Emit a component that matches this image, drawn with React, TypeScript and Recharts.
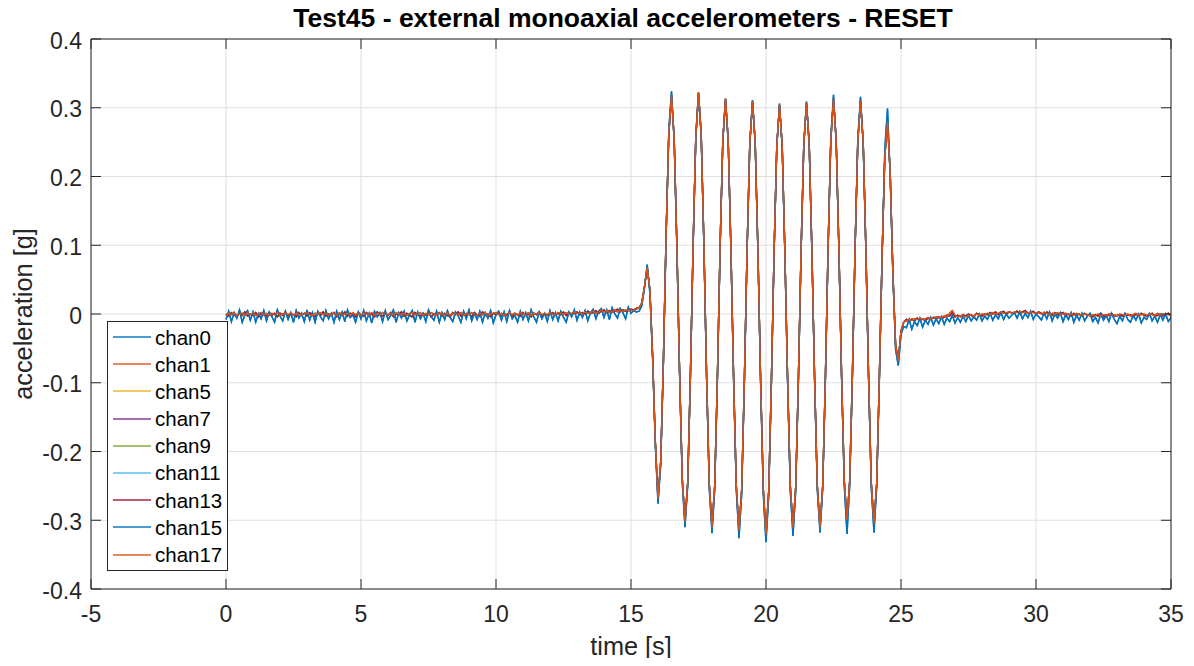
import React from 'react';
import { LineChart, Line, XAxis, YAxis, CartesianGrid, ReferenceLine } from 'recharts';

// ---------- time samples [s] ----------
const timePre = [
  0, 0.1, 0.2, 0.3, 0.4, 0.5, 0.6, 0.7, 0.8, 0.9,
  1, 1.1, 1.2, 1.3, 1.4, 1.5, 1.6, 1.7, 1.8, 1.9,
  2, 2.1, 2.2, 2.3, 2.4, 2.5, 2.6, 2.7, 2.8, 2.9,
  3, 3.1, 3.2, 3.3, 3.4, 3.5, 3.6, 3.7, 3.8, 3.9,
  4, 4.1, 4.2, 4.3, 4.4, 4.5, 4.6, 4.7, 4.8, 4.9,
  5, 5.1, 5.2, 5.3, 5.4, 5.5, 5.6, 5.7, 5.8, 5.9,
  6, 6.1, 6.2, 6.3, 6.4, 6.5, 6.6, 6.7, 6.8, 6.9,
  7, 7.1, 7.2, 7.3, 7.4, 7.5, 7.6, 7.7, 7.8, 7.9,
  8, 8.1, 8.2, 8.3, 8.4, 8.5, 8.6, 8.7, 8.8, 8.9,
  9, 9.1, 9.2, 9.3, 9.4, 9.5, 9.6, 9.7, 9.8, 9.9,
  10, 10.1, 10.2, 10.3, 10.4, 10.5, 10.6, 10.7, 10.8, 10.9,
  11, 11.1, 11.2, 11.3, 11.4, 11.5, 11.6, 11.7, 11.8, 11.9,
  12, 12.1, 12.2, 12.3, 12.4, 12.5, 12.6, 12.7, 12.8, 12.9,
  13, 13.1, 13.2, 13.3, 13.4, 13.5, 13.6, 13.7, 13.8, 13.9,
  14, 14.1, 14.2, 14.3, 14.4, 14.5, 14.6, 14.7, 14.8, 14.9,
  15, 15.1, 15.2,
];
const timeOsc = [
  15.3, 15.4, 15.5, 15.6, 15.7, 15.8, 15.9,
  16, 16.1, 16.2, 16.3, 16.4, 16.5, 16.6, 16.7, 16.8, 16.9,
  17, 17.1, 17.2, 17.3, 17.4, 17.5, 17.6, 17.7, 17.8, 17.9,
  18, 18.1, 18.2, 18.3, 18.4, 18.5, 18.6, 18.7, 18.8, 18.9,
  19, 19.1, 19.2, 19.3, 19.4, 19.5, 19.6, 19.7, 19.8, 19.9,
  20, 20.1, 20.2, 20.3, 20.4, 20.5, 20.6, 20.7, 20.8, 20.9,
  21, 21.1, 21.2, 21.3, 21.4, 21.5, 21.6, 21.7, 21.8, 21.9,
  22, 22.1, 22.2, 22.3, 22.4, 22.5, 22.6, 22.7, 22.8, 22.9,
  23, 23.1, 23.2, 23.3, 23.4, 23.5, 23.6, 23.7, 23.8, 23.9,
  24, 24.1, 24.2, 24.3, 24.4, 24.5, 24.6, 24.7, 24.8, 24.9,
  25, 25.1,
];
const timePost = [
  25.2, 25.3, 25.4, 25.5, 25.6, 25.7, 25.8, 25.9,
  26, 26.1, 26.2, 26.3, 26.4, 26.5, 26.6, 26.7, 26.8, 26.9,
  27, 27.1, 27.2, 27.3, 27.4, 27.5, 27.6, 27.7, 27.8, 27.9,
  28, 28.1, 28.2, 28.3, 28.4, 28.5, 28.6, 28.7, 28.8, 28.9,
  29, 29.1, 29.2, 29.3, 29.4, 29.5, 29.6, 29.7, 29.8, 29.9,
  30, 30.1, 30.2, 30.3, 30.4, 30.5, 30.6, 30.7, 30.8, 30.9,
  31, 31.1, 31.2, 31.3, 31.4, 31.5, 31.6, 31.7, 31.8, 31.9,
  32, 32.1, 32.2, 32.3, 32.4, 32.5, 32.6, 32.7, 32.8, 32.9,
  33, 33.1, 33.2, 33.3, 33.4, 33.5, 33.6, 33.7, 33.8, 33.9,
  34, 34.1, 34.2, 34.3, 34.4, 34.5, 34.6, 34.7, 34.8, 34.9,
  35,
];

// ---------- acceleration [g], blue channels (chan0, chan15) ----------
const bluePre = [
  -0.008, 0.004, -0.011, 0.002, -0.006, 0.006, -0.012, -0.001, 0.005, -0.009,
  0.003, -0.012, 0.001, -0.007, 0.005, -0.010, 0.003, -0.004, -0.012, 0.006,
  -0.003, -0.010, 0.004, -0.008, 0.002, -0.012, 0.005, -0.006, 0.001, -0.011,
  0.006, -0.009, 0.002, -0.012, 0.004, -0.004, -0.010, 0.005, -0.007, 0.001,
  -0.012, 0.004, -0.008, 0.003, -0.011, 0.006, -0.005, -0.001, -0.012, 0.003,
  -0.007, 0.005, -0.010, 0.001, -0.013, 0.004, -0.004, 0.002, -0.011, 0.005,
  -0.008, -0.002, 0.006, -0.012, 0.002, -0.006, 0.004, -0.010, -0.001, 0.005,
  -0.012, 0.003, -0.007, 0.001, -0.011, 0.006, -0.004, -0.009, 0.004, -0.012,
  0.002, -0.008, 0.005, -0.005, -0.011, 0.003, -0.003, -0.012, 0.004, -0.007,
  0.006, -0.010, 0.001, -0.008, 0.004, -0.012, 0.002, -0.006, 0.005, -0.013,
  -0.001, 0.004, -0.009, 0.003, -0.011, 0.005, -0.007, -0.002, -0.012, 0.004,
  -0.008, 0.002, -0.010, 0.006, -0.004, -0.012, 0.003, -0.007, 0.001, -0.011,
  0.005, -0.008, 0.002, -0.010, 0.004, -0.005, -0.012, 0.003, -0.004, 0.006,
  -0.009, 0.003, -0.005, 0.005, -0.010, 0.002, 0.007, -0.007, 0.004, 0.008,
  -0.005, 0.006, -0.008, 0.009, 0.000, -0.006, 0.008, 0.002, -0.007, 0.010,
  0.001, 0.005, 0.003,
];
const blueOsc = [
  0.004, 0.012, 0.038, 0.072, 0.030, -0.065, -0.190,
  -0.276, -0.220, -0.072, 0.112, 0.268, 0.324, 0.250, 0.095, -0.090, -0.246,
  -0.310, -0.250, -0.094, 0.096, 0.254, 0.320, 0.258, 0.098, -0.095, -0.254,
  -0.319, -0.256, -0.097, 0.094, 0.250, 0.312, 0.250, 0.093, -0.097, -0.257,
  -0.326, -0.262, -0.100, 0.091, 0.246, 0.311, 0.247, 0.091, -0.100, -0.263,
  -0.332, -0.265, -0.102, 0.088, 0.243, 0.306, 0.242, 0.086, -0.100, -0.258,
  -0.323, -0.258, -0.099, 0.090, 0.245, 0.309, 0.245, 0.089, -0.098, -0.256,
  -0.318, -0.255, -0.097, 0.093, 0.256, 0.319, 0.250, 0.092, -0.095, -0.250,
  -0.320, -0.250, -0.093, 0.094, 0.255, 0.316, 0.247, 0.091, -0.097, -0.253,
  -0.318, -0.252, -0.095, 0.082, 0.240, 0.299, 0.200, 0.055, -0.052, -0.075,
  -0.030, -0.018,
];
const bluePost = [
  -0.020, -0.008, -0.022, -0.011, -0.017, -0.006, -0.019, -0.009, -0.015, -0.005,
  -0.016, -0.007, -0.014, -0.004, -0.015, -0.006, -0.011, -0.002, -0.013, -0.005,
  -0.012, -0.003, -0.011, -0.002, -0.010, -0.004, -0.009, 0.000, -0.010, -0.003,
  -0.008, 0.001, -0.009, -0.001, -0.007, 0.002, -0.008, 0.000, -0.006, -0.002,
  0.002, -0.006, 0.003, -0.007, 0.001, -0.005, 0.004, -0.008, 0.000, -0.004,
  -0.009, 0.002, -0.007, 0.003, -0.010, 0.000, -0.006, 0.002, -0.011, -0.001,
  -0.008, 0.002, -0.012, -0.002, -0.009, 0.001, -0.010, -0.003, 0.001, -0.011,
  -0.005, -0.013, 0.000, -0.009, -0.002, -0.011, 0.001, -0.008, -0.014, -0.003,
  -0.010, 0.001, -0.008, -0.012, -0.002, -0.009, 0.000, -0.013, -0.005, -0.008,
  0.001, -0.010, -0.003, -0.012, -0.001, -0.009, 0.000, -0.011, -0.005,
];

// ---------- orange channels (chan1, chan17) ----------
const orangePre = [
  -0.002, 0.001, -0.001, 0.002, -0.002, 0.000, 0.001, -0.002, 0.002, -0.001,
  0.001, -0.002, 0.000, 0.002, -0.001, 0.001, -0.002, 0.001, -0.001, 0.002,
  -0.002, 0.000, 0.001, -0.001, 0.002, -0.002, 0.001, 0.000, -0.002, 0.001,
  0.002, -0.001, -0.002, 0.001, 0.000, 0.002, -0.001, 0.001, -0.002, 0.000,
  0.001, -0.002, 0.002, -0.001, 0.000, 0.001, -0.002, 0.002, -0.001, 0.001,
  -0.002, 0.001, 0.000, -0.001, 0.002, -0.002, 0.001, -0.001, 0.002, 0.000,
  -0.001, 0.001, -0.002, 0.002, 0.000, -0.001, 0.001, -0.002, 0.001, 0.002,
  -0.001, 0.000, 0.002, -0.002, 0.001, -0.001, 0.002, 0.000, -0.002, 0.001,
  0.000, -0.001, 0.002, -0.002, 0.001, 0.000, -0.001, 0.002, -0.002, 0.001,
  -0.001, 0.002, 0.000, -0.002, 0.001, -0.001, 0.002, -0.002, 0.000, 0.001,
  0.002, -0.001, 0.001, -0.002, 0.000, 0.002, -0.001, 0.001, -0.002, 0.002,
  0.000, -0.001, 0.002, -0.002, 0.001, 0.000, 0.002, -0.001, 0.001, -0.001,
  0.002, 0.000, -0.001, 0.002, 0.001, -0.001, 0.002, 0.000, 0.001, 0.003,
  0.001, 0.002, 0.000, 0.003, 0.001, 0.002, 0.004, 0.001, 0.003, 0.006,
  0.003, 0.005, 0.002, 0.004, 0.006, 0.003, 0.005, 0.004, 0.006, 0.005,
  0.006, 0.005, 0.007,
];
const mainOsc = [
  0.009, 0.016, 0.040, 0.068, 0.035, -0.060, -0.185,
  -0.268, -0.215, -0.068, 0.115, 0.262, 0.318, 0.255, 0.100, -0.085, -0.240,
  -0.302, -0.245, -0.090, 0.100, 0.258, 0.322, 0.262, 0.103, -0.090, -0.248,
  -0.310, -0.250, -0.092, 0.098, 0.252, 0.313, 0.253, 0.097, -0.092, -0.250,
  -0.315, -0.255, -0.095, 0.095, 0.248, 0.309, 0.250, 0.095, -0.095, -0.255,
  -0.321, -0.258, -0.097, 0.092, 0.245, 0.304, 0.245, 0.090, -0.095, -0.250,
  -0.311, -0.252, -0.094, 0.094, 0.247, 0.307, 0.248, 0.093, -0.093, -0.250,
  -0.310, -0.250, -0.092, 0.097, 0.252, 0.313, 0.252, 0.096, -0.090, -0.243,
  -0.300, -0.243, -0.088, 0.098, 0.250, 0.310, 0.250, 0.095, -0.092, -0.246,
  -0.305, -0.246, -0.090, 0.085, 0.228, 0.280, 0.205, 0.060, -0.045, -0.068,
  -0.025, -0.012,
];
const orangePost = [
  -0.010, -0.008, -0.009, -0.007, -0.008, -0.006, -0.008, -0.007, -0.005, -0.007,
  -0.006, -0.004, -0.006, -0.005, -0.003, -0.004, 0.001, 0.005, -0.002, -0.004,
  -0.003, -0.002, -0.004, -0.002, -0.001, -0.003, 0.000, -0.002, 0.000, -0.001,
  0.001, -0.001, 0.002, 0.000, 0.001, 0.003, 0.001, 0.002, 0.003, 0.001,
  0.003, 0.002, 0.004, 0.002, 0.003, 0.001, 0.003, 0.002, 0.001, 0.002,
  0.000, 0.002, 0.001, -0.001, 0.001, 0.000, 0.002, -0.001, 0.000, 0.001,
  -0.001, 0.000, -0.002, 0.001, -0.001, -0.002, 0.000, -0.001, -0.003, -0.001,
  -0.002, 0.000, -0.003, -0.001, -0.002, 0.000, -0.002, -0.001, -0.003, 0.000,
  -0.001, -0.002, 0.000, -0.003, -0.001, 0.001, -0.002, -0.001, 0.000, -0.002,
  0.000, -0.001, -0.002, 0.001, -0.001, -0.002, 0.000, -0.001, -0.002,
];

// ---------- remaining channels (chan5, chan7, chan9, chan11, chan13) ----------
const otherPre = [
  0.000, -0.003, 0.002, -0.001, -0.004, 0.001, -0.002, 0.003, -0.003, 0.000,
  -0.002, 0.002, -0.004, 0.001, -0.001, -0.003, 0.002, -0.002, 0.001, -0.004,
  0.001, -0.002, 0.003, -0.003, 0.000, -0.001, -0.004, 0.002, -0.002, 0.001,
  -0.003, 0.002, -0.001, -0.004, 0.001, -0.002, 0.003, -0.003, 0.000, -0.001,
  0.002, -0.004, 0.000, -0.002, 0.003, -0.003, 0.001, -0.001, -0.004, 0.002,
  -0.001, -0.003, 0.002, -0.002, 0.000, -0.004, 0.003, -0.001, -0.003, 0.001,
  -0.002, 0.002, -0.004, 0.000, -0.001, 0.003, -0.003, 0.001, -0.002, -0.004,
  0.002, -0.001, -0.003, 0.001, -0.002, 0.003, -0.004, 0.000, -0.001, 0.002,
  -0.003, 0.001, -0.002, -0.004, 0.002, -0.001, 0.003, -0.003, 0.000, -0.002,
  0.001, -0.004, 0.002, -0.001, -0.003, 0.003, -0.002, 0.000, -0.004, 0.001,
  -0.001, 0.002, -0.003, 0.000, -0.002, 0.003, -0.004, 0.001, -0.001, -0.003,
  0.002, -0.002, 0.000, -0.004, 0.001, -0.001, 0.003, -0.003, 0.001, -0.002,
  0.000, 0.002, -0.002, 0.001, -0.001, 0.003, -0.002, 0.002, 0.000, 0.001,
  0.003, -0.001, 0.002, 0.000, 0.004, 0.001, 0.002, 0.005, 0.001, 0.004,
  0.006, 0.002, 0.005, 0.003, 0.004, 0.007, 0.003, 0.006, 0.004, 0.005,
  0.007, 0.006, 0.008,
];
const otherPost = [
  -0.008, -0.011, -0.007, -0.010, -0.006, -0.009, -0.007, -0.010, -0.006, -0.008,
  -0.005, -0.007, -0.004, -0.006, -0.005, -0.002, -0.003, 0.002, -0.004, -0.002,
  -0.004, -0.001, -0.003, 0.000, -0.002, -0.004, 0.001, -0.001, -0.003, 0.000,
  -0.001, 0.002, 0.000, 0.003, -0.001, 0.002, 0.004, 0.000, 0.003, 0.002,
  0.001, 0.004, 0.001, 0.003, 0.005, 0.001, 0.002, 0.004, 0.000, 0.003,
  0.001, -0.001, 0.003, 0.000, -0.002, 0.002, -0.001, 0.001, 0.002, -0.002,
  0.000, -0.003, 0.001, -0.002, 0.000, -0.003, 0.001, -0.002, -0.001, -0.004,
  -0.001, -0.003, 0.001, -0.004, -0.001, -0.002, 0.001, -0.003, -0.002, -0.001,
  -0.003, 0.000, -0.002, -0.001, -0.004, 0.000, -0.003, 0.001, -0.002, -0.003,
  -0.002, 0.001, -0.003, -0.002, 0.000, -0.003, -0.001, 0.001, -0.003,
];

// ---------- axes / labels ----------
const xTicks = [-5, 0, 5, 10, 15, 20, 25, 30, 35];
const yTicks = [-0.4, -0.3, -0.2, -0.1, 0, 0.1, 0.2, 0.3, 0.4];
const titleText = 'Test45 - external monoaxial accelerometers - RESET';
const xLabel = 'time [s]';
const yLabel = 'acceleration [g]';

const channels = [
  { key: 'chan0', color: '#0072BD', group: 'blue' },
  { key: 'chan1', color: '#D95319', group: 'orange' },
  { key: 'chan5', color: '#EDB120', group: 'other' },
  { key: 'chan7', color: '#7E2F8E', group: 'other' },
  { key: 'chan9', color: '#77AC30', group: 'other' },
  { key: 'chan11', color: '#4DBEEE', group: 'other' },
  { key: 'chan13', color: '#A2142F', group: 'other' },
  { key: 'chan15', color: '#0072BD', group: 'blue' },
  { key: 'chan17', color: '#D95319', group: 'orange' },
];

const time = [...timePre, ...timeOsc, ...timePost];
const groupValues: Record<string, number[]> = {
  blue: [...bluePre, ...blueOsc, ...bluePost],
  orange: [...orangePre, ...mainOsc, ...orangePost],
  other: [...otherPre, ...mainOsc, ...otherPost],
};
const data = time.map((t, i) => {
  const row: Record<string, number> = { t };
  channels.forEach((c) => {
    row[c.key] = groupValues[c.group][i];
  });
  return row;
});

// ---------- layout (page pixels; wrapper is pulled to the page origin) ----------
const W = 1194;
const H = 666;
const MARGIN = { top: 39, right: 23, bottom: 37, left: 31 };
const Y_AXIS_W = 60;
const X_AXIS_H = 40;
const PLOT_W = W - MARGIN.left - Y_AXIS_W - MARGIN.right;
const PLOT_H = H - MARGIN.top - MARGIN.bottom - X_AXIS_H;
const PLOT_L = MARGIN.left + Y_AXIS_W;
const PLOT_T = MARGIN.top;
const FONT = '"Liberation Sans", Arial, Helvetica, sans-serif';
const INK = '#262626';
const TICK_LEN = 10;

function XTick(props: any) {
  const { x, y, payload } = props;
  return (
    <g>
      <line x1={x} y1={y} x2={x} y2={y - TICK_LEN} stroke={INK} strokeWidth={1} />
      <line x1={x} y1={y - PLOT_H} x2={x} y2={y - PLOT_H + TICK_LEN} stroke={INK} strokeWidth={1} />
      <text x={x} y={y + 33} textAnchor="middle" fontSize={23} fill={INK} fontFamily={FONT}>
        {String(payload.value)}
      </text>
    </g>
  );
}

function YTick(props: any) {
  const { x, y, payload } = props;
  return (
    <g>
      <line x1={x} y1={y} x2={x + TICK_LEN} y2={y} stroke={INK} strokeWidth={1} />
      <line x1={x + PLOT_W} y1={y} x2={x + PLOT_W - TICK_LEN} y2={y} stroke={INK} strokeWidth={1} />
      <text x={x - 9} y={y} dy="0.42em" textAnchor="end" fontSize={23} fill={INK} fontFamily={FONT}>
        {String(payload.value)}
      </text>
    </g>
  );
}

export default function App() {
  return (
    <div style={{ position: 'relative', width: W, height: H, margin: -8, background: '#fff', overflow: 'hidden' }}>
      <LineChart width={W} height={H} data={data} margin={MARGIN}>
        <CartesianGrid stroke="#dfdfdf" strokeWidth={1} horizontalValues={yTicks} verticalValues={xTicks} />
        <XAxis
          dataKey="t"
          type="number"
          domain={[-5, 35]}
          ticks={xTicks}
          allowDataOverflow
          height={X_AXIS_H}
          tickSize={0}
          tickMargin={0}
          tickLine={false}
          axisLine={{ stroke: INK, strokeWidth: 1 }}
          tick={<XTick />}
          interval={0}
        />
        <YAxis
          type="number"
          domain={[-0.4, 0.4]}
          ticks={yTicks}
          allowDataOverflow
          width={Y_AXIS_W}
          tickSize={0}
          tickMargin={0}
          tickLine={false}
          axisLine={{ stroke: INK, strokeWidth: 1 }}
          tick={<YTick />}
          interval={0}
        />
        {channels.map((c) => (
          <Line
            key={c.key}
            dataKey={c.key}
            name={c.key}
            type="linear"
            stroke={c.color}
            strokeWidth={1.4}
            dot={false}
            activeDot={false}
            isAnimationActive={false}
          />
        ))}
        <ReferenceLine y={0.4} stroke={INK} strokeWidth={1} />
        <ReferenceLine x={35} stroke={INK} strokeWidth={1} />
      </LineChart>

      <svg
        width={W}
        height={H}
        style={{ position: 'absolute', left: 0, top: 0, pointerEvents: 'none' }}
      >
        <text
          x={623}
          y={27}
          textAnchor="middle"
          fontSize={26.5}
          fontWeight="bold"
          fill="#000"
          fontFamily={FONT}
        >
          {titleText}
        </text>
        <text
          x={PLOT_L + PLOT_W / 2}
          y={655}
          textAnchor="middle"
          fontSize={25.3}
          fill={INK}
          fontFamily={FONT}
        >
          {xLabel}
        </text>
        <text
          x={31.5}
          y={PLOT_T + PLOT_H / 2}
          textAnchor="middle"
          fontSize={25.3}
          fill={INK}
          fontFamily={FONT}
          transform={`rotate(-90 31.5 ${PLOT_T + PLOT_H / 2})`}
        >
          {yLabel}
        </text>
      </svg>

      <div
        style={{
          position: 'absolute',
          left: 107,
          top: 321,
          width: 121,
          boxSizing: 'border-box',
          border: `1px solid ${INK}`,
          background: '#fff',
          padding: '1.5px 0',
          fontFamily: FONT,
          fontSize: 20.5,
          color: '#000',
        }}
      >
        {channels.map((c) => (
          <div key={c.key} style={{ height: 27.2, display: 'flex', alignItems: 'center' }}>
            <div
              style={{
                marginLeft: 5,
                width: 38,
                height: 2,
                background: c.color,
                opacity: 0.7,
              }}
            />
            <span style={{ marginLeft: 4, lineHeight: '27.2px' }}>{c.key}</span>
          </div>
        ))}
      </div>
    </div>
  );
}
